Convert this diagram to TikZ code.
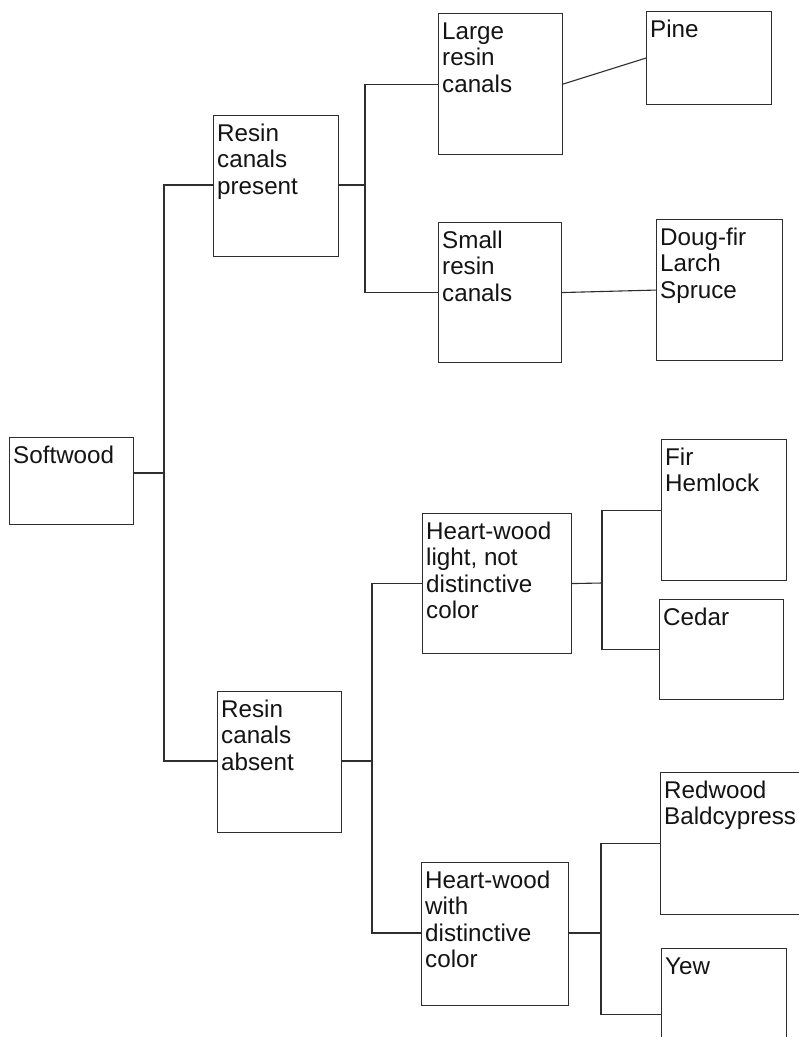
\documentclass[tikz,border=0pt]{standalone}
\usepackage{fontspec}
\setmainfont{Liberation Sans}
\usetikzlibrary{calc}
\tikzset{
  bx/.style={draw=black!82, line width=1.1pt, rectangle, inner sep=0pt},
  txt/.style={anchor=base west, inner sep=0pt, text=black!92, font=\fontsize{24.2}{26.5}\selectfont},
  conn/.style={draw=black!82, line width=1.1pt}
}
\newcommand{\mkbox}[5]{% name x1 y1 x2 y2
  \node[bx, anchor=north west, minimum width=#4pt-#2pt, minimum height=#5pt-#3pt] (#1) at (#2,#3) {};}
\newcommand{\boxtext}[2]{\node[txt] (#1-t) at ($(#1.north west)+(4,26)$) {\parbox[t]{6cm}{#2}};}
\begin{document}
\begin{tikzpicture}[x=1pt,y=-1pt]
\useasboundingbox (0,0) rectangle (799,1037);
\clip (0,0) rectangle (799,1037);
\fill[white] (0,0) rectangle (799,1037);
% boxes
\mkbox{sw}{9}{437}{133}{524}
\mkbox{rp}{213}{115}{338}{256}
\mkbox{ra}{217}{691}{341}{832}
\mkbox{lr}{438}{13}{562}{154}
\mkbox{sr}{438}{222}{561}{362}
\mkbox{pine}{646}{11}{771}{104}
\mkbox{df}{656}{219}{782}{360}
\mkbox{hl}{422}{513}{571}{653}
\mkbox{hw}{421}{862}{568}{1005}
\mkbox{fir}{661}{439}{786}{580}
\mkbox{cedar}{659}{599}{783}{699}
\mkbox{red}{660}{772}{830}{914}
\mkbox{yew}{661}{948}{786}{1080}
% texts
\boxtext{sw}{Softwood}
\boxtext{rp}{Resin\\canals\\present}
\boxtext{ra}{Resin\\canals\\absent}
\boxtext{lr}{Large\\resin\\canals}
\boxtext{sr}{Small\\resin\\canals}
\boxtext{pine}{Pine}
\boxtext{df}{Doug-fir\\Larch\\Spruce}
\boxtext{hl}{Heart-wood\\light, not\\distinctive\\color}
\boxtext{hw}{Heart-wood\\with\\distinctive\\color}
\boxtext{fir}{Fir\\Hemlock}
\boxtext{cedar}{Cedar}
\boxtext{red}{Redwood\\Baldcypress}
\boxtext{yew}{Yew}
% junctions
\coordinate (t1) at (164,473);
\coordinate (t2) at (365,185);
\coordinate (t3) at (372,761);
\coordinate (t4) at (602,583);
\coordinate (t5) at (601,933);
% connectors
\draw[conn] (sw.east |- t1) -- (t1);
\draw[conn] (rp.west |- t2) -| (t1) |- (ra.west |- t3);
\draw[conn] (rp.east |- t2) -- (t2);
\draw[conn] (lr.west) -| (t2) |- (sr.west);
\draw[conn] (lr.east) -- (pine.west);
\draw[conn] (sr.east) -- (df.west);
\draw[conn] (ra.east |- t3) -- (t3);
\draw[conn] (hl.west) -| (t3) |- (hw.west |- t5);
\draw[conn] (hl.east) -- (t4);
\draw[conn] (fir.west) -| (t4) |- (cedar.west);
\draw[conn] (hw.east |- t5) -- (t5);
\draw[conn] (red.west) -| (t5) |- (yew.west);
\end{tikzpicture}
\end{document}
